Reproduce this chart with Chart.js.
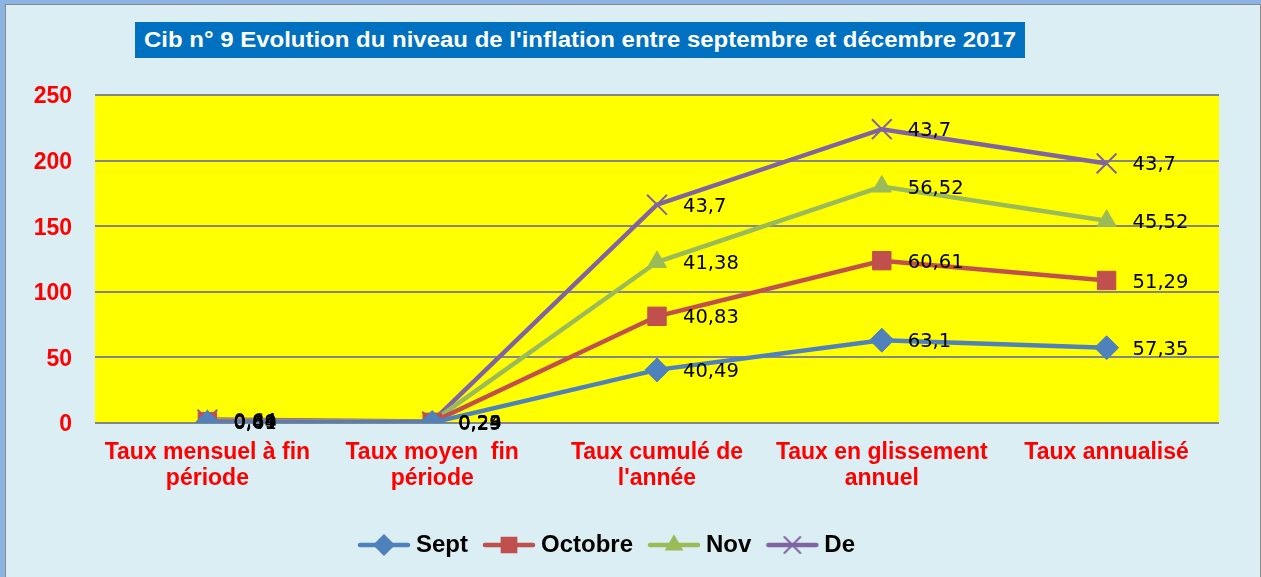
<!DOCTYPE html>
<html>
<head>
<meta charset="utf-8">
<script src="https://cdn.jsdelivr.net/npm/chart.js@4.4.1/dist/chart.umd.min.js"></script>
<style>
  html, body { margin: 0; padding: 0; }
  body { width: 1261px; height: 577px; background: #8DB3E2; position: relative; overflow: hidden; }
  #frame { position: absolute; left: 5px; top: 4px; width: 1254px; height: 580px; background: #DAEEF3; border: 1px solid #8A8A8A; }
  #title { position: absolute; left: 135px; top: 22px; width: 890px; height: 36px; background: #0070C0; color: #fff;
           font: bold 22px "Liberation Sans", Arial, sans-serif; line-height: 36px; text-align: center; white-space: nowrap; }
  #title span { display: inline-block; transform: scaleX(1.09); }
  #wrap { position: absolute; left: 0; top: 0; width: 1261px; height: 577px; }
</style>
</head>
<body>
<div id="frame"></div>
<div id="wrap"><canvas id="c" width="1261" height="577"></canvas></div>
<div id="title"><span>Cib n° 9 Evolution du niveau de l'inflation entre septembre et décembre 2017</span></div>
<script>
const categories = [
  ["Taux mensuel à fin", "période"],
  ["Taux moyen  fin", "période"],
  ["Taux cumulé de", "l'année"],
  ["Taux en glissement", "annuel"],
  ["Taux annualisé"]
];
const seriesNames = ["Sept", "Octobre", "Nov", "De"];
const sept    = [0.44, 0.29, 40.49, 63.1, 57.35];
const octobre = [0.61, 0.24, 40.83, 60.61, 51.29];
const nov     = [0.89, 0.29, 41.38, 56.52, 45.52];
const de      = [0.64, 0.23, 43.7, 43.7, 43.7];
const yTicks  = [0, 50, 100, 150, 200, 250];

const colors  = ["#4F81BD", "#C0504D", "#9BBB59", "#8064A2"];
const styles  = ["rectRot", "rect", "triangle", "crossRot"];
const radii   = [12, 13, 11, 14];
const values  = [sept, octobre, nov, de];

function legendImg(i) {
  const cv = document.createElement('canvas');
  cv.width = 54; cv.height = 22;
  const ctx = cv.getContext('2d');
  ctx.strokeStyle = colors[i]; ctx.lineWidth = 4.5; ctx.lineCap = 'round';
  ctx.beginPath(); ctx.moveTo(3, 11); ctx.lineTo(51, 11); ctx.stroke();
  ctx.fillStyle = colors[i]; ctx.strokeStyle = colors[i]; ctx.lineWidth = 2;
  Chart.helpers.drawPoint(ctx, { pointStyle: styles[i], radius: radii[i] * 0.8, borderWidth: 2 }, 27, 11);
  return cv;
}

const bgPlugin = {
  id: 'bg',
  beforeDraw(chart) {
    const a = chart.chartArea, ctx = chart.ctx;
    ctx.save(); ctx.fillStyle = '#FFFF00';
    ctx.fillRect(a.left, a.top, a.right - a.left, a.bottom - a.top);
    ctx.restore();
  }
};
const labelPlugin = {
  id: 'vals',
  afterDatasetsDraw(chart) {
    const ctx = chart.ctx;
    ctx.save();
    ctx.font = '19.5px "DejaVu Sans", sans-serif';
    ctx.fillStyle = '#000';
    ctx.textBaseline = 'middle';
    ctx.textAlign = 'left';
    chart.data.datasets.forEach((ds, di) => {
      const meta = chart.getDatasetMeta(di);
      meta.data.forEach((pt, i) => {
        const v = ds.data[i];
        ctx.fillText(String(v).replace('.', ','), pt.x + 26, pt.y + 2);
      });
    });
    ctx.restore();
  }
};

new Chart(document.getElementById('c'), {
  type: 'line',
  data: {
    labels: categories,
    datasets: seriesNames.map((n, i) => ({
      label: n,
      data: values[i],
      borderColor: colors[i],
      backgroundColor: colors[i],
      borderWidth: 4.5,
      pointStyle: styles[i],
      pointRadius: radii[i],
      pointHoverRadius: radii[i],
      pointBorderWidth: i === 3 ? 2 : 1,
      pointBorderColor: colors[i],
      pointBackgroundColor: colors[i],
      tension: 0,
      fill: false
    }))
  },
  options: {
    responsive: false,
    animation: false,
    layout: { padding: { top: 95, right: 42, bottom: 10, left: 0 } },
    plugins: {
      legend: {
        position: 'bottom',
        labels: {
          usePointStyle: true,
          pointStyleWidth: 40,
          padding: 21,
          color: '#000',
          font: { family: '"Liberation Sans", Arial, sans-serif', size: 24, weight: 'bold' },
          generateLabels(chart) {
            return chart.data.datasets.map((ds, i) => ({
              text: ds.label, pointStyle: legendImg(i), datasetIndex: i,
              fillStyle: colors[i], strokeStyle: colors[i], lineWidth: 0, hidden: false, fontColor: '#000'
            }));
          }
        }
      },
      tooltip: { enabled: false },
      title: { display: false }
    },
    scales: {
      x: {
        grid: { display: false, drawTicks: false },
        border: { display: false },
        offset: true,
        afterFit(s) { s.height = 89; },
        ticks: {
          color: '#FF0000', padding: 17, maxRotation: 0, autoSkip: false,
          font: { family: '"Liberation Sans", Arial, sans-serif', size: 23, weight: 'bold', lineHeight: 1.13 }
        }
      },
      y: {
        stacked: true,
        min: 0, max: 250,
        afterFit(s) { s.width = 95; },
        afterBuildTicks(s) { s.ticks = yTicks.map(v => ({ value: v })); },
        grid: { color: '#868686', lineWidth: 2, drawTicks: false },
        border: { display: false },
        ticks: {
          color: '#FF0000', padding: 23, labelOffset: 2,
          font: { family: '"Liberation Sans", Arial, sans-serif', size: 23, weight: 'bold' }
        }
      }
    }
  },
  plugins: [bgPlugin, labelPlugin]
});
</script>
</body>
</html>
